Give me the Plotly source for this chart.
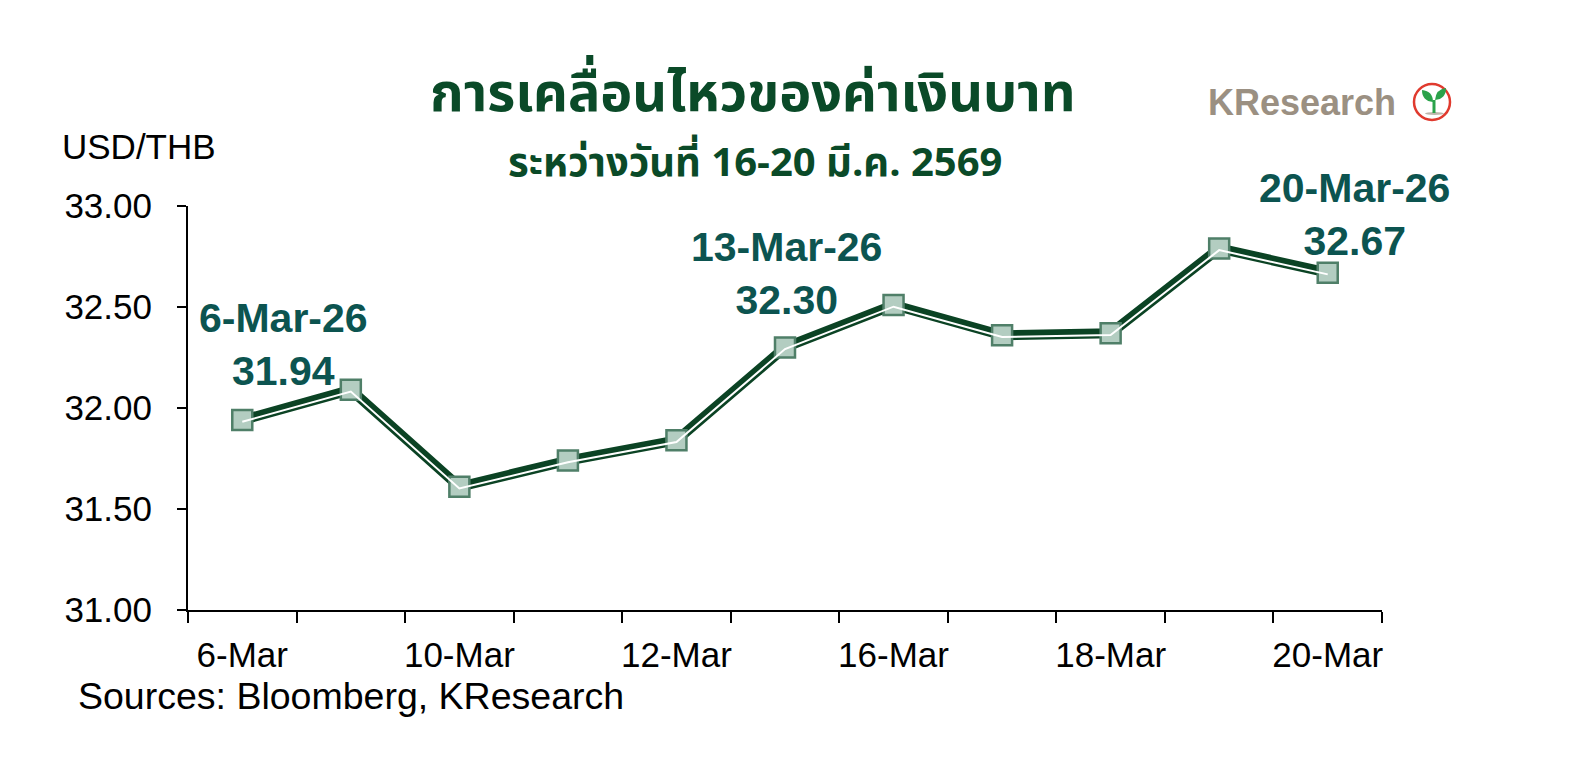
import plotly.graph_objects as go

# ---- data ----
dates = ["6-Mar", "9-Mar", "10-Mar", "11-Mar", "12-Mar", "13-Mar",
         "16-Mar", "17-Mar", "18-Mar", "19-Mar", "20-Mar"]
usd_thb = [31.94, 32.09, 31.61, 31.74, 31.84, 32.30, 32.51, 32.36, 32.37, 32.79, 32.67]
label_idx = [0, 5, 10]
label_text = ["6-Mar-26", "13-Mar-26", "20-Mar-26"]
y_ticks = [31.0, 31.5, 32.0, 32.5, 33.0]

title = "การเคลื่อนไหวของค่าเงินบาท"
subtitle = "ระหว่างวันที่ 16-20 มี.ค. 2569"

x = list(range(len(dates)))
shown = list(range(0, len(dates), 2))

DARK = "#0b4324"
LABEL = "#0c5450"
TITLE_C = "#0a4a28"
THAI_FONT = "Tahoma, 'Noto Sans Thai', 'Noto Sans Thai UI', Garuda, Loma, 'Liberation Sans', sans-serif"
ARIAL = "Arial, 'Liberation Sans', sans-serif"

y_lo, y_hi = 31.0, 33.0
plot_px = 610 - 206
shift = 1.7 * (y_hi - y_lo) / plot_px

fig = go.Figure()
fig.add_trace(go.Scatter(x=x, y=usd_thb, mode="lines",
                         line=dict(color=DARK, width=10), hoverinfo="skip", showlegend=False))
fig.add_trace(go.Scatter(x=x, y=usd_thb, mode="lines", yaxis="y2",
                         line=dict(color="white", width=2), hoverinfo="skip", showlegend=False))
fig.add_trace(go.Scatter(x=x, y=usd_thb, mode="markers",
                         marker=dict(symbol="square", size=20, color="#b3cdc1",
                                     line=dict(color="#4f7f68", width=2.5)),
                         showlegend=False))

offsets = {0: (41, 76), 5: (1, 74), 10: (27, 58)}
for i, t in zip(label_idx, label_text):
    xs, ys = offsets[i]
    fig.add_annotation(x=i, y=usd_thb[i], text=f"<b>{t}<br>{usd_thb[i]:.2f}</b>",
                       showarrow=False, xanchor="center", yanchor="middle",
                       xshift=xs, yshift=ys,
                       font=dict(family=ARIAL, size=41, color=LABEL))

fig.add_annotation(xref="paper", yref="paper", x=0.473, y=1.0, yshift=112,
                   text=f"<b>{title}</b>", showarrow=False, xanchor="center", yanchor="middle",
                   font=dict(family=THAI_FONT, size=54, color=TITLE_C))
fig.add_annotation(xref="paper", yref="paper", x=0.475, y=1.0, yshift=42,
                   text=f"<b>{subtitle}</b>", showarrow=False, xanchor="center", yanchor="middle",
                   font=dict(family=THAI_FONT, size=40, color=TITLE_C))
fig.add_annotation(xref="paper", yref="paper", x=0, xshift=-128, y=1.0, yshift=60,
                   text="USD/THB", showarrow=False, xanchor="left", yanchor="middle",
                   font=dict(family=ARIAL, size=35, color="black"))
fig.add_annotation(xref="paper", yref="paper", x=0, xshift=-112, y=0, yshift=-86,
                   text="Sources: Bloomberg, KResearch", showarrow=False, xanchor="left", yanchor="middle",
                   font=dict(family=ARIAL, size=37.5, color="black"))

# KResearch logo
fig.add_annotation(xref="paper", yref="paper", x=1.0, xshift=16, y=1.0, yshift=104,
                   text="<b>KResearch</b>", showarrow=False, xanchor="right", yanchor="middle",
                   font=dict(family=ARIAL, size=36, color="#9b9082"))
cx, cy = 50, 104
logo = dict(xref="paper", yref="paper", xsizemode="pixel", ysizemode="pixel", xanchor=1.0, yanchor=1.0)
fig.add_shape(type="circle", x0=cx - 18, x1=cx + 18, y0=cy - 18, y1=cy + 18,
              line=dict(color="#e03a2e", width=2.5), fillcolor="white", **logo)
fig.add_shape(type="circle", x0=cx - 7, x1=cx + 12, y0=cy - 13, y1=cy - 10,
              line=dict(width=0), fillcolor="#bdb6ac", **logo)
fig.add_shape(type="path",
              path=f"M {cx+1},{cy} Q {cx-10},{cy+1} {cx-10},{cy+12} Q {cx+1},{cy+11} {cx+1},{cy} Z",
              line=dict(width=0), fillcolor="#2aa24a", **logo)
fig.add_shape(type="path",
              path=f"M {cx+3},{cy+2} Q {cx+4},{cy+13} {cx+14},{cy+14} Q {cx+14},{cy+3} {cx+3},{cy+2} Z",
              line=dict(width=0), fillcolor="#2aa24a", **logo)
fig.add_shape(type="line", x0=cx + 2, x1=cx + 2, y0=cy - 11, y1=cy + 2,
              line=dict(color="#2aa24a", width=3), **logo)

fig.update_layout(
    width=1578, height=758,
    margin=dict(l=180, r=204, t=198, b=156),
    paper_bgcolor="white", plot_bgcolor="white",
    font=dict(family=ARIAL, size=35, color="black"),
    xaxis=dict(range=[-0.5, len(dates) - 0.5], tickvals=shown,
               ticktext=[dates[i] for i in shown], ticks="", showgrid=False, zeroline=False,
               showline=True, linecolor="black", linewidth=2,
               minor=dict(tick0=-0.5, dtick=1, ticks="outside", ticklen=11, tickwidth=2, tickcolor="black"),
               tickfont=dict(size=35), ticklabelstandoff=13),
    yaxis=dict(range=[y_lo, y_hi], tickvals=y_ticks, tickformat=".2f", ticks="outside",
               ticklen=9, tickwidth=2, tickcolor="black", showgrid=False, zeroline=False,
               showline=True, linecolor="black", linewidth=2, tickfont=dict(size=35),
               ticklabelstandoff=18),
    yaxis2=dict(range=[y_lo + shift, y_hi + shift], overlaying="y", visible=False),
)

fig.write_html("out.html")
